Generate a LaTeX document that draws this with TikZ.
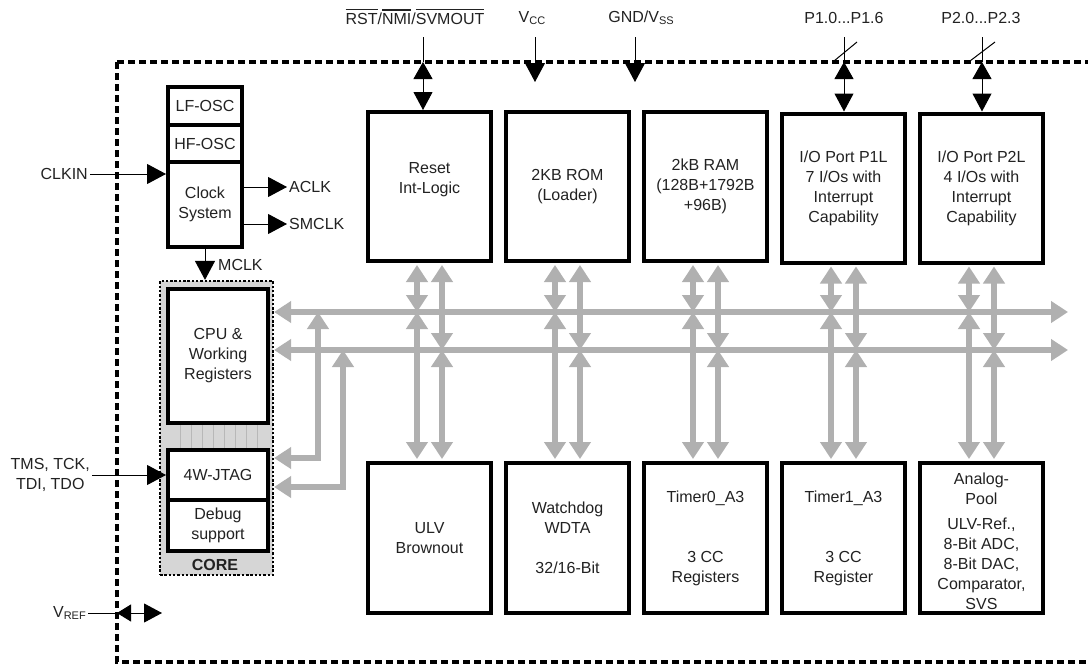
\documentclass[tikz,border=0pt]{standalone}
\usepackage{fontspec}
\setmainfont{Liberation Sans}
\usetikzlibrary{arrows.meta,calc}
\definecolor{busgray}{HTML}{B0B0B0}
\definecolor{coregray}{HTML}{D6D6D6}
\definecolor{gapline}{HTML}{B8B8B8}
\definecolor{ink}{HTML}{222222}
\newcommand\myovl[1]{\vbox{\hrule height 1.2pt\kern 3pt\hbox{#1}}}
\newcommand\mysub[1]{\raisebox{-2pt}{\fontsize{11}{11}\selectfont #1}}
\begin{document}
\begin{tikzpicture}[x=1pt,y=-1pt,
  every node/.style={font=\fontsize{16}{20}\selectfont, text=ink},
  txt/.style={align=center, inner sep=2pt},
  blkbox/.style={draw=black, line width=4pt, fill=white, align=center, inner sep=0pt},
  topbox/.style={blkbox, minimum width=123pt, minimum height=149pt},
  botbox/.style={blkbox, minimum width=123pt, minimum height=150pt},
  outerborder/.style={draw=black, line width=4.5pt, dash pattern=on 7pt off 4pt},
  thinline/.style={draw=black, line width=1pt},
  pinarrow/.style={thinline, -{Triangle[length=19pt,width=20pt]}},
  pinboth/.style={thinline, {Triangle[length=17pt,width=19pt]}-{Triangle[length=18pt,width=19pt]}},
  bus/.style={draw=busgray, line width=6.5pt, {Triangle[length=17pt,width=21pt]}-{Triangle[length=17pt,width=21pt]}},
]
\useasboundingbox (0,0) rectangle (1088,664);
\fill[white] (0,0) rectangle (1088,664);

% outer device border
\draw[outerborder] (117,62) -- (1120,62) (117,62) -- (117,662) -- (1120,662);

% ---------- clock system ----------
\node[blkbox, minimum width=74pt, minimum height=38pt] (lfosc) at (205,106) {LF-OSC};
\node[blkbox, minimum width=74pt, minimum height=37pt] (hfosc) at (205,143.5) {HF-OSC};
\node[blkbox, minimum width=74pt, minimum height=85pt] (clocksys) at (205,204.5) {Clock\\System};

\node[txt, anchor=east] (clkin) at (90,174) {CLKIN};
\draw[pinarrow] (clkin.east) -- (clkin.east -| clocksys.west);
\node[txt, anchor=west] (aclk) at (287,187) {ACLK};
\draw[pinarrow] (aclk.west -| clocksys.east) -- (aclk.west);
\node[txt, anchor=west] (smclk) at (287,224) {SMCLK};
\draw[pinarrow] (smclk.west -| clocksys.east) -- (smclk.west);

% ---------- core ----------
\node[draw=black, line width=2.2pt, dash pattern=on 2.5pt off 1.8pt, fill=coregray,
      minimum width=113pt, minimum height=294pt, inner sep=0pt] (core) at (216.5,428) {};
\foreach \gx in {180,191,202,213,224,235,246,257}
  \draw[gapline, line width=1pt] (\gx,425) -- (\gx,448);
\node[blkbox, minimum width=100pt, minimum height=134pt] (cpu) at (218,356) {CPU \&\\Working\\Registers};
\node[blkbox, minimum width=100pt, minimum height=50pt] (jtag) at (218,475) {4W-JTAG};
\node[blkbox, minimum width=100pt, minimum height=51pt] (debug) at (218,525.5) {Debug\\support};
\node[txt, font=\fontsize{16}{20}\selectfont\bfseries] (corelbl) at (215,565) {CORE};

\draw[pinarrow] (clocksys.south) -- (clocksys.south |- core.north);
\node[txt, anchor=west] (mclk) at (216,265) {MCLK};

\node[txt, anchor=east] (tms) at (92,475) {TMS, TCK,\\TDI, TDO};
\draw[pinarrow] (tms.east) -- (jtag.west);

% V_REF
\node[txt, anchor=east] (vref) at (88,613) {V\mysub{REF}};
\coordinate (vrefa) at (117,613);
\coordinate (vrefb) at (162,613);
\draw[thinline] (vref.east) -- (vrefa);
\draw[thinline, {Triangle[length=14pt,width=17pt]}-{Triangle[length=18pt,width=19pt]}] (vrefa) -- (vrefb);

% ---------- peripheral boxes ----------
\node[topbox] (reset) at (429.5,186.5) {};
\node[txt] (resettxt) at (429.5,180) {Reset\\Int-Logic};
\node[topbox] (rom) at (567.5,186.5) {2KB ROM\\(Loader)};
\node[topbox] (ram) at (705.5,186.5) {2kB RAM\\(128B+1792B\\+96B)};
\node[topbox] (pone) at (843.5,188) {I/O Port P1L\\7 I/Os with\\Interrupt\\Capability};
\node[topbox] (ptwo) at (981.5,188) {I/O Port P2L\\4 I/Os with\\Interrupt\\Capability};

\node[botbox] (ulv) at (429.5,538) {ULV\\Brownout};
\node[botbox] (wdt) at (567.5,538) {Watchdog\\WDTA\\\mbox{}\\32/16-Bit};
\node[botbox] (tmr0) at (705.5,538) {Timer0\_A3\\\mbox{}\\\mbox{}\\3 CC\\Registers};
\node[botbox] (tmr1) at (843.5,538) {Timer1\_A3\\\mbox{}\\\mbox{}\\3 CC\\Register};
\node[botbox] (analog) at (981.5,538) {};
\node[txt] (analogtxt) at (981.5,541) {Analog-\\Pool\\[5pt]ULV-Ref.,\\8-Bit ADC,\\8-Bit DAC,\\Comparator,\\SVS};

% ---------- buses ----------
\coordinate (b1) at (1068,312);
\coordinate (b2) at (1068,350);
\draw[bus] (core.east |- b1) -- (b1);
\draw[bus] (core.east |- b2) -- (b2);
\coordinate (j1) at (318,458);
\coordinate (j2) at (343,487);
\draw[bus, line join=miter] (j1 |- b1) -- (j1) -- (j1 -| core.east);
\draw[bus, line join=miter] (j2 |- b2) -- (j2) -- (j2 -| core.east);

\foreach \t/\b in {reset/ulv, rom/wdt, ram/tmr0, pone/tmr1, ptwo/analog} {
  \draw[bus, shorten <=2pt] ([xshift=-12.5pt]\t.south) -- ([xshift=-12.5pt]\t.south |- b1);
  \draw[bus, shorten >=2pt] ([xshift=-12.5pt]\b.north |- b1) -- ([xshift=-12.5pt]\b.north);
  \draw[bus, shorten <=2pt] ([xshift=12.5pt]\t.south) -- ([xshift=12.5pt]\t.south |- b2);
  \draw[bus, shorten >=2pt] ([xshift=12.5pt]\b.north |- b2) -- ([xshift=12.5pt]\b.north);
}

% ---------- top pins ----------
\node[txt] (rsttxt) at (415,17) {\myovl{RST}/\myovl{NMI}/\myovl{SVMOUT}};
\coordinate (rstt) at (423,37);
\coordinate (rstb) at (423,62);
\draw[thinline] (rstt) -- (rstb);
\draw[pinboth] (rstb) -- (rstb |- reset.north);

\node[txt] (vcctxt) at (532,18) {V\mysub{CC}};
\coordinate (vcct) at (535,37);
\coordinate (vccb) at (535,82);
\draw[pinarrow] (vcct) -- (vccb);

\node[txt] (gndtxt) at (641,18) {GND/V\mysub{SS}};
\coordinate (gndt) at (635,37);
\coordinate (gndb) at (635,82);
\draw[pinarrow] (gndt) -- (gndb);

\node[txt] (p1txt) at (844,18) {P1.0...P1.6};
\coordinate (p1t) at (844,37);
\coordinate (p1b) at (844,62);
\draw[thinline] (p1t) -- (p1b);
\draw[thinline] (834,61) -- (857,42);
\draw[pinboth] (p1b) -- (p1b |- pone.north);

\node[txt] (p2txt) at (981,18) {P2.0...P2.3};
\coordinate (p2t) at (982,37);
\coordinate (p2b) at (982,62);
\draw[thinline] (p2t) -- (p2b);
\draw[thinline] (970,61) -- (995,42);
\draw[pinboth] (p2b) -- (p2b |- ptwo.north);
\end{tikzpicture}
\end{document}
